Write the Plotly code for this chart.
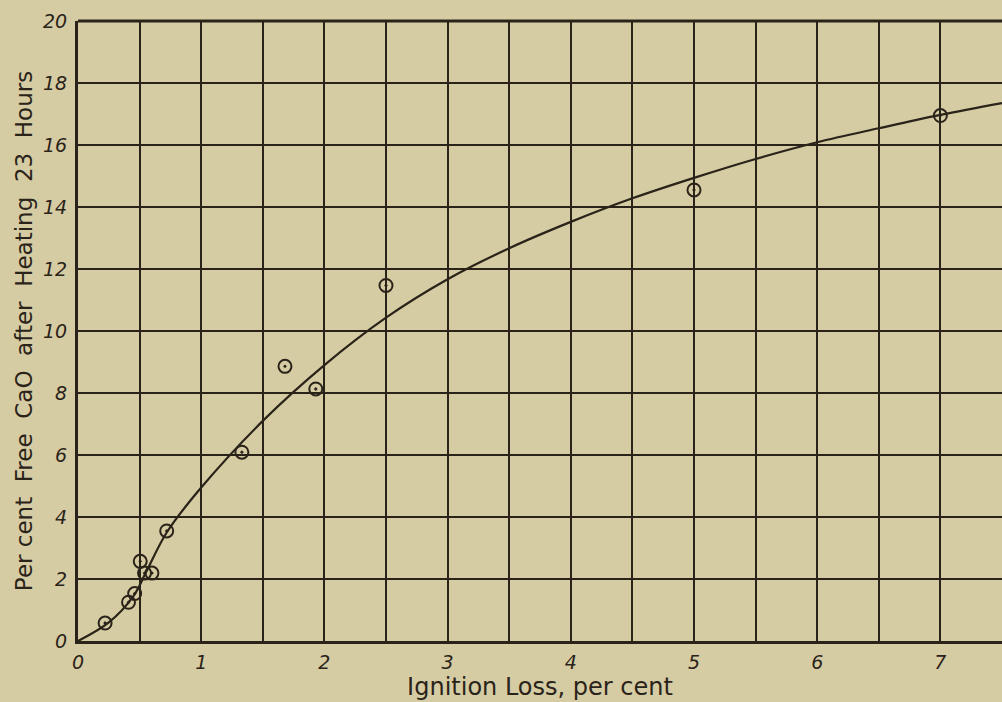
import plotly.graph_objects as go

# Observed data points (ignition loss %, free CaO %)
obs_x = [0.22, 0.41, 0.46, 0.505, 0.54, 0.60, 0.72, 1.33, 1.68, 1.93, 2.50, 5.0, 7.0]
obs_y = [0.58, 1.25, 1.53, 2.57, 2.19, 2.19, 3.55, 6.09, 8.86, 8.13, 11.47, 14.55, 16.95]

# Smooth fitted curve
curve_x = [0, 0.25, 0.45, 0.55, 0.72, 1.0, 1.5, 2.0, 2.5, 3.0, 3.5, 4.0, 4.5, 5.0, 5.5, 6.0, 6.5, 7.0, 7.5]
curve_y = [0, 0.6, 1.45, 2.2, 3.5, 4.95, 7.1, 8.9, 10.43, 11.67, 12.67, 13.52, 14.28, 14.94, 15.55, 16.09, 16.54, 16.97, 17.35]

x_ticks = [0, 1, 2, 3, 4, 5, 6, 7]
y_ticks = [0, 2, 4, 6, 8, 10, 12, 14, 16, 18, 20]

ink = "#2a2319"
paper = "#d6cca3"

fig = go.Figure()
fig.add_trace(go.Scatter(x=curve_x, y=curve_y, mode="lines",
                         line=dict(color=ink, width=2.2, shape="spline", smoothing=1.0),
                         hoverinfo="skip", showlegend=False))
fig.add_trace(go.Scatter(x=obs_x, y=obs_y, mode="markers",
                         marker=dict(symbol="circle-open-dot", size=13, color=ink,
                                     line=dict(color=ink, width=2)),
                         showlegend=False))

tickfont = dict(family="DejaVu Sans", size=19, color=ink, style="italic")

fig.update_layout(
    width=1002, height=702,
    margin=dict(l=78, r=0, t=21, b=61),
    paper_bgcolor=paper, plot_bgcolor=paper,
    xaxis=dict(range=[0, 7.5], tickvals=x_ticks, ticktext=[str(v) for v in x_ticks],
               showgrid=True, gridcolor=ink, gridwidth=2,
               minor=dict(dtick=0.5, tick0=0, showgrid=True, gridcolor=ink, gridwidth=2),
               showline=True, linecolor=ink, linewidth=3, zeroline=False,
               ticks="", tickfont=tickfont, ticklabelstandoff=2,
               title=dict(text="Ignition Loss, per cent",
                          font=dict(family="DejaVu Sans", size=24, color=ink), standoff=0)),
    yaxis=dict(range=[0, 20], tickvals=y_ticks, ticktext=[str(v) for v in y_ticks],
               showgrid=True, gridcolor=ink, gridwidth=2,
               showline=True, linecolor=ink, linewidth=3, zeroline=False,
               ticks="", tickfont=tickfont, ticklabelstandoff=4,
               title=dict(text="Per cent  Free  CaO  after  Heating  23  Hours",
                          font=dict(family="DejaVu Sans", size=23, color=ink),
                          standoff=4)),
)
# top border
fig.add_shape(type="line", xref="paper", yref="paper", x0=0, x1=1, y0=1, y1=1,
              line=dict(color=ink, width=3))

fig.write_html("out.html", config={"displayModeBar": False},
               post_script="document.body.style.margin='0';document.body.style.background='%s';" % paper)
